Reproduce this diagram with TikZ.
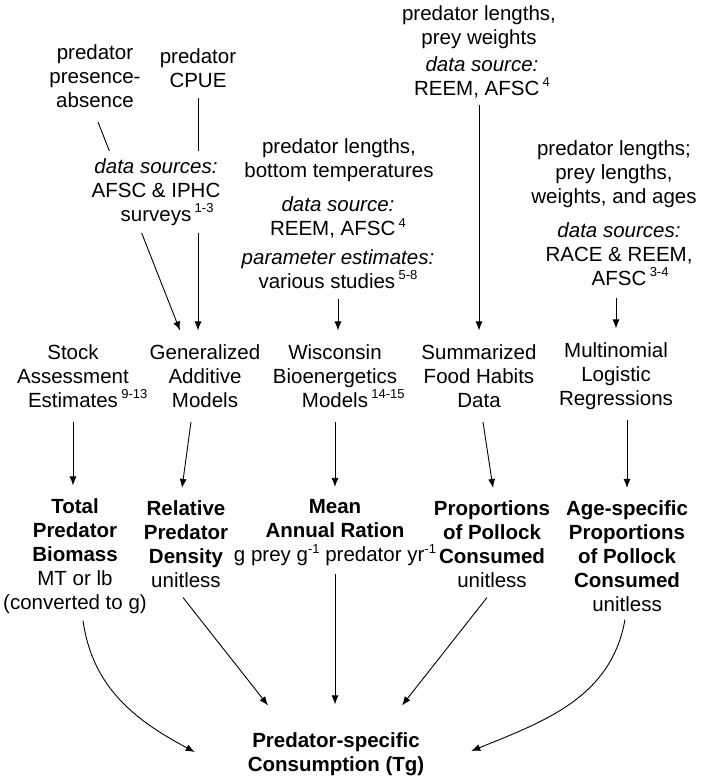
\documentclass[tikz,border=0pt]{standalone}
\usepackage{fontspec}
\setmainfont{Liberation Sans}
\usetikzlibrary{arrows.meta,backgrounds}
\newcommand{\flowfont}{\fontsize{20.5}{24}\selectfont}
\newcommand{\sups}[1]{\raisebox{0.42em}{\fontsize{13}{13}\selectfont #1}}
\newcommand{\refs}[1]{\rlap{\,\sups{#1}}}
\tikzset{
	txt/.style={align=center,inner sep=0pt,outer sep=0pt,font=\flowfont},
	arr/.style={-{Latex[length=9pt,width=7pt]},line width=0.9pt},
}
\begin{document}
\begin{tikzpicture}[x=1pt,y=-1pt]
		\useasboundingbox (0,0) rectangle (708,778);
		% Data og kilder
		\node[txt] (pres) at (95,76) {predator\\presence-\\absence};
		\node[txt] (cpue) at (198,68.5) {predator\\CPUE};
		\node[txt,fill=white,inner sep=7pt] (srcA) at (156,192) {\textit{data sources:}\\AFSC \& IPHC\\surveys\refs{1-3}};
		\node[txt] (wiTop) at (339,160.5) {predator lengths,\\bottom temperatures};
		\node[txt] (wiSrc) at (338,217.5) {\textit{data source:}\\REEM, AFSC\,\sups{4}};
		\node[txt] (wiPar) at (338,269) {\textit{parameter estimates:}\\various studies\,\sups{5-8}};
		\node[txt] (fhTop) at (479,27.5) {predator lengths,\\prey weights};
		\node[txt] (fhSrc) at (482,77) {\textit{data source:}\\REEM, AFSC\,\sups{4}};
		\node[txt] (mlTop) at (614,174) {predator lengths;\\prey lengths,\\weights, and ages};
		\node[txt] (mlSrc) at (619,254) {\textit{data sources:}\\RACE \& REEM,\\AFSC\refs{3-4}};
		% Modeller
		\node[txt] (stock) at (73,376) {Stock\\Assessment\\Estimates\refs{9-13}};
		\node[txt] (gam) at (205,376) {Generalized\\Additive\\Models};
		\node[txt] (wisc) at (335,376) {Wisconsin\\Bioenergetics\\Models\refs{14-15}};
		\node[txt] (sfh) at (479,376) {Summarized\\Food Habits\\Data};
		\node[txt] (mlr) at (616,376) {Multinomial\\Logistic\\Regressions};
		% Resultater
		\node[txt] (biom) at (75,556) {\textbf{Total}\\\textbf{Predator}\\\textbf{Biomass}\\MT or lb\\(converted to g)};
		\node[txt] (dens) at (186,544.5) {\textbf{Relative}\\\textbf{Predator}\\\textbf{Density}\\unitless};
		\node[txt] (ration) at (335,533) {\textbf{Mean}\\\textbf{Annual Ration}\\g prey g\sups{-1} predator yr\sups{-1}};
		\node[txt] (prop) at (492,544.5) {\textbf{Proportions}\\\textbf{of Pollock}\\\textbf{Consumed}\\unitless};
		\node[txt] (age) at (627,556.5) {\textbf{Age-specific}\\\textbf{Proportions}\\\textbf{of Pollock}\\\textbf{Consumed}\\unitless};
		\node[txt] (cons) at (336,754) {\textbf{Predator-specific}\\\textbf{Consumption (Tg)}};
		% Piler bak kildeteksten
		\begin{pgfonlayer}{background}
			\draw[arr] ([shift={(3,14.5)}]pres.south) -- ([shift={(-25,-14)}]gam.north);
			\draw[arr,shorten <=10pt,shorten >=14pt] (cpue.south) -- (cpue.south |- gam.north);
		\end{pgfonlayer}
		% Data til modeller
		\draw[arr,shorten <=10pt,shorten >=14pt] (wiPar.south) -- (wiPar.south |- wisc.north);
		\draw[arr,shorten <=7pt,shorten >=14pt] (sfh.north |- fhSrc.south) -- (sfh.north);
		\draw[arr,shorten <=12pt,shorten >=14pt] (mlr.north |- mlSrc.south) -- (mlr.north);
		% Modeller til resultater
		\draw[arr,shorten <=14.5pt,shorten >=13pt] (stock.south) -- (stock.south |- biom.north);
		\draw[arr] ([shift={(-14,14.5)}]gam.south) -- ([shift={(-4,-13)}]dens.north);
		\draw[arr,shorten <=14.5pt,shorten >=13pt] (wisc.south) -- (wisc.south |- ration.north);
		\draw[arr] ([shift={(4,14.5)}]sfh.south) -- ([shift={(1,-13)}]prop.north);
		\draw[arr,shorten <=10pt,shorten >=13pt] (age.north |- mlr.south) -- (age.north);
		% Resultater til konsum
		\draw[arr] ([shift={(8,7)}]biom.south) to[out=-82,in=152] ([shift={(-53,-2)}]cons.west);
		\draw[arr] ([shift={(-3,9.5)}]dens.south) -- ([shift={(-68,-27)}]cons.north);
		\draw[arr,shorten <=8pt,shorten >=28pt] (ration.south) -- (ration.south |- cons.north);
		\draw[arr] ([shift={(-5,9.5)}]prop.south) -- ([shift={(66,-27)}]cons.north);
		\draw[arr] ([shift={(-2,7.5)}]age.south) to[out=-100,in=22] ([shift={(47,-3)}]cons.east);
	\end{tikzpicture}
\end{document}
